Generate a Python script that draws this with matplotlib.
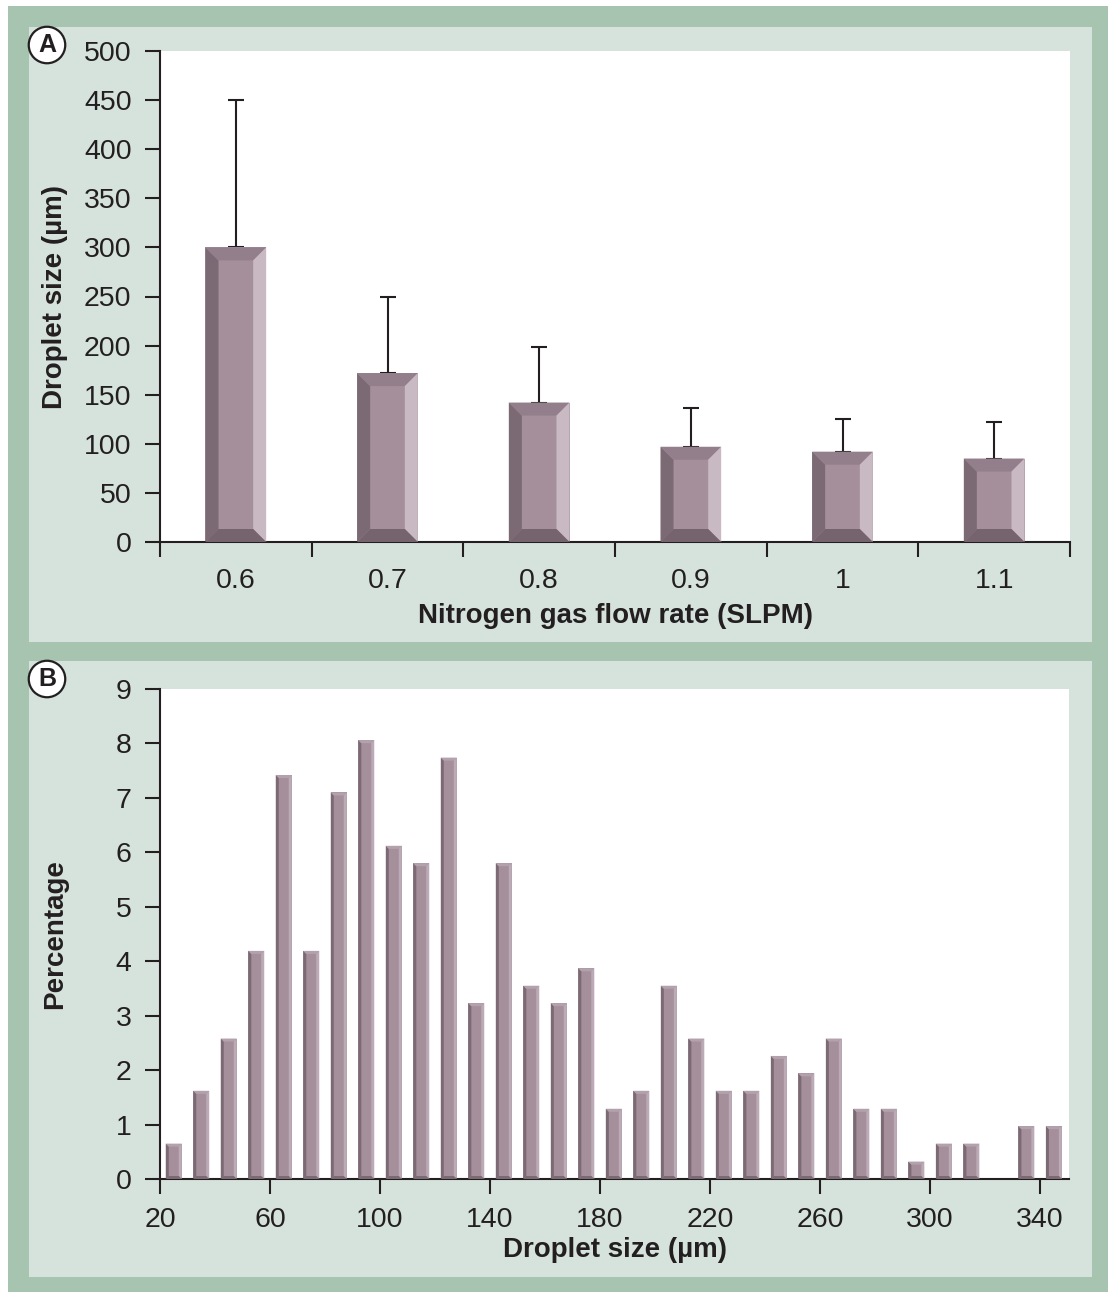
import matplotlib
matplotlib.use("Agg")
import matplotlib.pyplot as plt
from matplotlib.patches import Rectangle, Polygon
from matplotlib.transforms import IdentityTransform

plt.rcParams['font.family'] = ['Liberation Sans', 'DejaVu Sans']

# ---- Data ----
flow_labels = ['0.6', '0.7', '0.8', '0.9', '1', '1.1']
mean_size = [300, 172, 142, 97, 92, 85]
size_upper = [450, 249, 199, 136, 125, 122]

bin_centers = [25, 35, 45, 55, 65, 75, 85, 95, 105, 115, 125, 135, 145, 155, 165,
               175, 185, 195, 205, 215, 225, 235, 245, 255, 265, 275, 285, 295,
               305, 315, 325, 335, 345]
percentages = [0.65, 1.62, 2.58, 4.19, 7.42, 4.19, 7.1, 8.06, 6.12, 5.8, 7.74,
               3.23, 5.8, 3.55, 3.23, 3.87, 1.29, 1.62, 3.55, 2.58, 1.62, 1.62,
               2.26, 1.94, 2.58, 1.29, 1.29, 0.32, 0.65, 0.65, 0.0, 0.97, 0.97]
yticksA = [0, 50, 100, 150, 200, 250, 300, 350, 400, 450, 500]
yticksB = list(range(0, 10))
xticksB = [20, 60, 100, 140, 180, 220, 260, 300, 340]

# ---- Styles ----
W, H = 1108, 1292
GREEN = '#a6c4b0'
LIGHT = '#d6e3dc'
TXT = '#231f20'
FACE = '#a48f9b'
TICKFS = 20.5

fig = plt.figure(figsize=(W / 100, H / 100), dpi=100, facecolor='white')

def frect(x0, y0, x1, y1, color, z):
    fig.patches.append(Rectangle((x0 / W, 1 - y1 / H), (x1 - x0) / W, (y1 - y0) / H,
                                 transform=fig.transFigure, facecolor=color,
                                 edgecolor='none', zorder=z))

frect(8, 6, 1108, 1292, GREEN, -10)
frect(29, 27, 1092, 642, LIGHT, -9)
frect(29, 661, 1092, 1277, LIGHT, -9)

def axes_px(l, t, r, b):
    return fig.add_axes([l / W, 1 - b / H, (r - l) / W, (b - t) / H])

axA = axes_px(160, 51, 1070, 542)
axB = axes_px(160, 689, 1069, 1179)

for ax in (axA, axB):
    ax.set_facecolor('white')
    for s in ('top', 'right'):
        ax.spines[s].set_visible(False)
    for s in ('left', 'bottom'):
        ax.spines[s].set_color(TXT)
        ax.spines[s].set_linewidth(1.5)
    ax.tick_params(axis='both', direction='out', length=10.5, width=1.5,
                   color=TXT, labelcolor=TXT, labelsize=TICKFS, pad=10)
    ax.tick_params(axis='y', pad=10)

def bevel(ax, patch, b, cols):
    x0, y0 = patch.get_x(), patch.get_y()
    w, h = patch.get_width(), patch.get_height()
    (X0, Y0) = ax.transData.transform((x0, y0))
    (X1, Y1) = ax.transData.transform((x0 + w, y0 + h))
    b = min(b, (X1 - X0) / 2, (Y1 - Y0) / 2)
    if b <= 0:
        return
    BL, BR, TR, TL = (X0, Y0), (X1, Y0), (X1, Y1), (X0, Y1)
    bl, br, tr, tl = (X0 + b, Y0 + b), (X1 - b, Y0 + b), (X1 - b, Y1 - b), (X0 + b, Y1 - b)
    polys = [(BL, TL, tl, bl), (TL, TR, tr, tl), (TR, BR, br, tr), (BR, BL, bl, br)]
    for pts, c in zip(polys, cols):
        ax.add_patch(Polygon(pts, closed=True, facecolor=c, edgecolor='none',
                             transform=IdentityTransform(), zorder=3, clip_on=False))

# ---- Panel A ----
xa = list(range(len(flow_labels)))
barsA = axA.bar(xa, mean_size, width=0.4, color=FACE, edgecolor='none', zorder=2)
yerr_up = [u - m for u, m in zip(size_upper, mean_size)]
axA.errorbar(xa, mean_size, yerr=[[0] * len(xa), yerr_up], fmt='none',
             ecolor=TXT, elinewidth=1.5, capsize=6, capthick=1.5, zorder=1)
axA.set_xlim(-0.5, len(flow_labels) - 0.5)
axA.set_ylim(0, 500)
axA.set_yticks(yticksA)
axA.set_xticks([i - 0.5 for i in range(len(flow_labels) + 1)])
axA.set_xticklabels([])
axA.set_xticks(xa, minor=True)
axA.set_xticklabels(flow_labels, minor=True)
axA.tick_params(axis='x', which='minor', length=0, labelsize=TICKFS, labelcolor=TXT, pad=19)

# ---- Panel B ----
barsB = axB.bar(bin_centers, percentages, width=5.8, color=FACE, edgecolor='none', zorder=2)
axB.set_xlim(20, 350.5)
axB.set_ylim(0, 9)
axB.set_yticks(yticksB)
axB.set_xticks(xticksB)

fig.canvas.draw()
for p in barsA:
    bevel(axA, p, 13, ['#7b6973', '#937f8b', '#c9b9c3', '#75636d'])
for p in barsB:
    bevel(axB, p, 3, ['#7b6973', '#b3a2ad', '#bcabb6', '#7b6973'])

# ---- Labels ----
lab = dict(fontsize=20, fontweight='bold', color=TXT, ha='center', va='center')
fig.text(55 / W, 1 - 297 / H, 'Droplet size (µm)', rotation=90, **lab)
fig.text(615 / W, 1 - 616 / H, 'Nitrogen gas flow rate (SLPM)', **lab)
fig.text(55 / W, 1 - 934 / H, 'Percentage', rotation=90, **lab)
fig.text(615 / W, 1 - 1250 / H, 'Droplet size (µm)', **lab)

circ = dict(fontsize=18, fontweight='bold', color=TXT, ha='center', va='center',
            bbox=dict(boxstyle='circle,pad=0.25', facecolor='white', edgecolor=TXT, linewidth=1.6))
fig.text(47 / W, 1 - 45 / H, 'A', **circ)
fig.text(47 / W, 1 - 679 / H, 'B', **circ)

fig.savefig('out.png', dpi=100, facecolor='white')
